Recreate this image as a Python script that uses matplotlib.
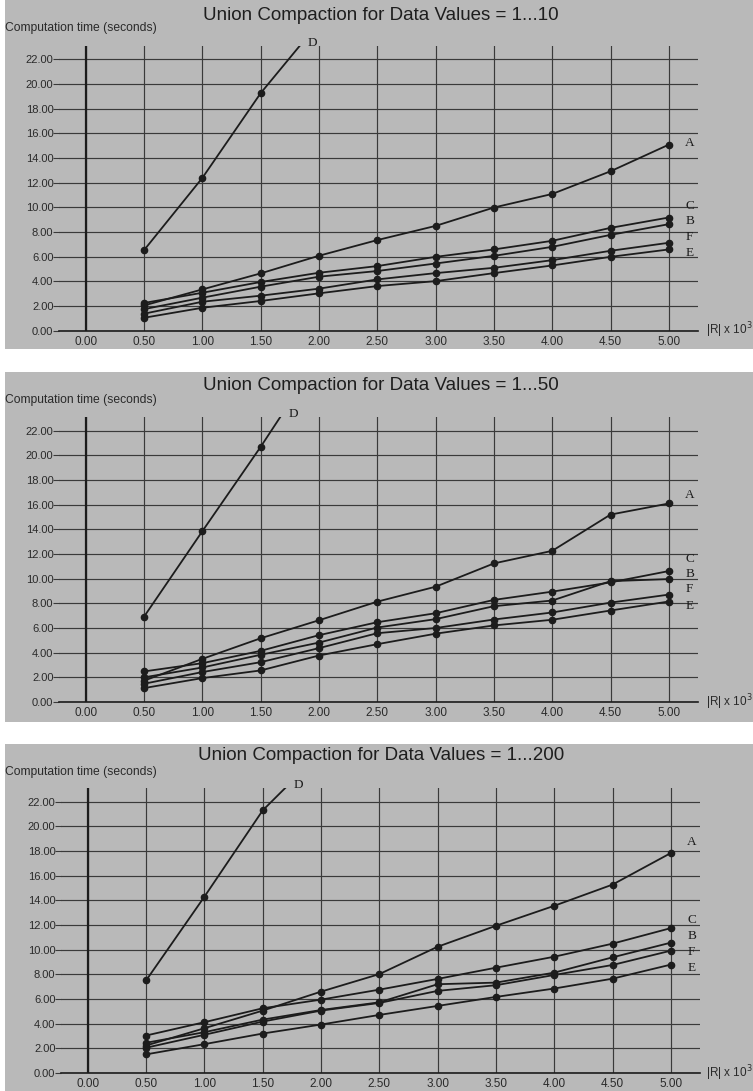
import numpy as np
import matplotlib
matplotlib.use("Agg")
import matplotlib.pyplot as plt
from matplotlib.patches import Rectangle
from matplotlib.ticker import FormatStrFormatter

# x values (|R| x 10^3)
x_vals = [0.5, 1.0, 1.5, 2.0, 2.5, 3.0, 3.5, 4.0, 4.5, 5.0]
d_x = [0.5, 1.0, 1.5, 2.0]

titles = ["Union Compaction for Data Values = 1...10",
          "Union Compaction for Data Values = 1...50",
          "Union Compaction for Data Values = 1...200"]

# data values = 1...10
a_10 = [2.05, 3.35, 4.65, 6.08, 7.35, 8.50, 9.99, 11.09, 12.93, 15.09]
c_10 = [2.25, 3.08, 3.95, 4.70, 5.24, 5.99, 6.59, 7.29, 8.34, 9.18]
b_10 = [1.75, 2.68, 3.57, 4.38, 4.84, 5.45, 6.07, 6.80, 7.77, 8.64]
f_10 = [1.38, 2.35, 2.84, 3.41, 4.16, 4.67, 5.10, 5.72, 6.48, 7.13]
e_10 = [1.05, 1.86, 2.41, 3.03, 3.62, 4.02, 4.67, 5.29, 5.99, 6.59]
d_10 = [6.54, 12.40, 19.27, 25.00]

# data values = 1...50
a_50 = [1.73, 3.50, 5.17, 6.63, 8.14, 9.35, 11.24, 12.26, 15.20, 16.10]
c_50 = [2.48, 3.15, 4.15, 5.42, 6.47, 7.20, 8.28, 8.95, 9.70, 10.62]
b_50 = [2.00, 2.80, 3.83, 4.82, 6.04, 6.72, 7.77, 8.23, 9.80, 9.97]
f_50 = [1.48, 2.43, 3.23, 4.37, 5.58, 6.00, 6.69, 7.26, 8.06, 8.71]
e_50 = [1.13, 1.94, 2.56, 3.77, 4.69, 5.54, 6.21, 6.67, 7.42, 8.15]
d_50 = [6.93, 13.86, 20.70, 27.90]

# data values = 1...200
a_200 = [2.23, 3.63, 5.06, 6.60, 8.02, 10.24, 11.94, 13.56, 15.28, 17.84]
c_200 = [3.04, 4.12, 5.25, 5.95, 6.76, 7.63, 8.54, 9.43, 10.49, 11.75]
b_200 = [2.45, 3.31, 4.33, 5.11, 5.73, 7.20, 7.33, 8.14, 9.38, 10.57]
f_200 = [2.05, 3.10, 4.17, 5.06, 5.68, 6.66, 7.12, 7.95, 8.76, 9.92]
e_200 = [1.51, 2.34, 3.20, 3.93, 4.71, 5.44, 6.17, 6.85, 7.65, 8.79]
d_200 = [7.51, 14.30, 21.30, 26.00]

panels = [
    {"A": a_10, "C": c_10, "B": b_10, "F": f_10, "E": e_10, "D": d_10},
    {"A": a_50, "C": c_50, "B": b_50, "F": f_50, "E": e_50, "D": d_50},
    {"A": a_200, "C": c_200, "B": b_200, "F": f_200, "E": e_200, "D": d_200},
]

# where the end labels sit (y in data units), layout only
label_y = [
    {"A": 15.2, "C": 10.1, "B": 8.9, "F": 7.6, "E": 6.3},
    {"A": 16.75, "C": 11.6, "B": 10.4, "F": 9.2, "E": 7.8},
    {"A": 18.7, "C": 12.4, "B": 11.1, "F": 9.85, "E": 8.55},
]

W, H = 753, 1091
bg = "#b9b9b9"
ink = "#1c1c1c"
grid_c = "#3a3a3a"
sans = "Liberation Sans"
serif = "Liberation Serif"

fig = plt.figure(figsize=(W / 100, H / 100), dpi=100, facecolor="white")

# gray panel backgrounds (pixel boxes: x, y_top, w, h)
boxes = [(5, 0, 748, 349), (5, 372, 748, 350), (5, 744, 748, 347)]
for x0, y0, w, h in boxes:
    fig.patches.append(Rectangle((x0 / W, 1 - (y0 + h) / H), w / W, h / H,
                                 transform=fig.transFigure, fc=bg, ec="none", zorder=-5))

zero_px = [330.7, 702, 1073]
left_px = [59, 59, 61]
title_px = [15, 385, 755]
ylab_px = [28, 400, 772]
px_per_x = 116.6
ytop = 23.1
ax_h = ytop * 12.33

for i, data in enumerate(panels):
    b = zero_px[i]
    ax = fig.add_axes([left_px[i] / W, 1 - b / H, 639 / W, ax_h / H])
    ax.set_facecolor("none")
    ax.set_xlim(-0.23, -0.23 + 639 / px_per_x)
    ax.set_ylim(0, ytop)

    ax.set_xticks(np.arange(0, 5.01, 0.5))
    ax.set_yticks(np.arange(0, 22.01, 2))
    ax.xaxis.set_major_formatter(FormatStrFormatter("%.2f"))
    ax.yaxis.set_major_formatter(FormatStrFormatter("%.2f"))
    ax.grid(True, color=grid_c, lw=0.85)
    ax.set_axisbelow(True)
    ax.axvline(0, color=ink, lw=1.6, zorder=1)

    for s in ["top", "right", "left"]:
        ax.spines[s].set_visible(False)
    ax.spines["bottom"].set_color(ink)
    ax.spines["bottom"].set_linewidth(1.2)
    ax.tick_params(axis="x", length=0, pad=3.5, labelsize=8.5, labelcolor="#2a2a2a")
    ax.tick_params(axis="y", length=4, width=0.8, color=grid_c, pad=0,
                   labelsize=8, labelcolor="#2a2a2a")
    for lab in ax.get_xticklabels() + ax.get_yticklabels():
        lab.set_family(sans)

    for name in ["A", "C", "B", "F", "E"]:
        ax.plot(x_vals, data[name], color=ink, lw=1.3, marker="o", ms=4.5,
                zorder=3, clip_on=False)
        ax.text(5.14, label_y[i][name], name, family=serif, fontsize=9.5,
                color=ink, va="center", ha="left")

    ax.plot(d_x, data["D"], color=ink, lw=1.3, marker="o", ms=4.5, zorder=3)
    # D label just past where the line leaves the top of the plot
    d_cross = np.interp(ytop, data["D"], d_x)
    ax.text(d_cross + 0.07, ytop + 0.25, "D", family=serif, fontsize=9.5,
            color=ink, va="center", ha="left")

    fig.text(381 / W, 1 - title_px[i] / H, titles[i], family=sans, fontsize=13.5,
             color="#1e1e1e", ha="center", va="center")
    fig.text(5 / W, 1 - ylab_px[i] / H, "Computation time (seconds)", family=sans,
             fontsize=8.7, color="#2a2a2a", ha="left", va="center")
    fig.text(706 / W, 1 - b / H, "|R| x 10$^3$", family=sans, fontsize=8.5,
             color="#2a2a2a", ha="left", va="center")

fig.savefig("out.png", dpi=100, facecolor="white")
